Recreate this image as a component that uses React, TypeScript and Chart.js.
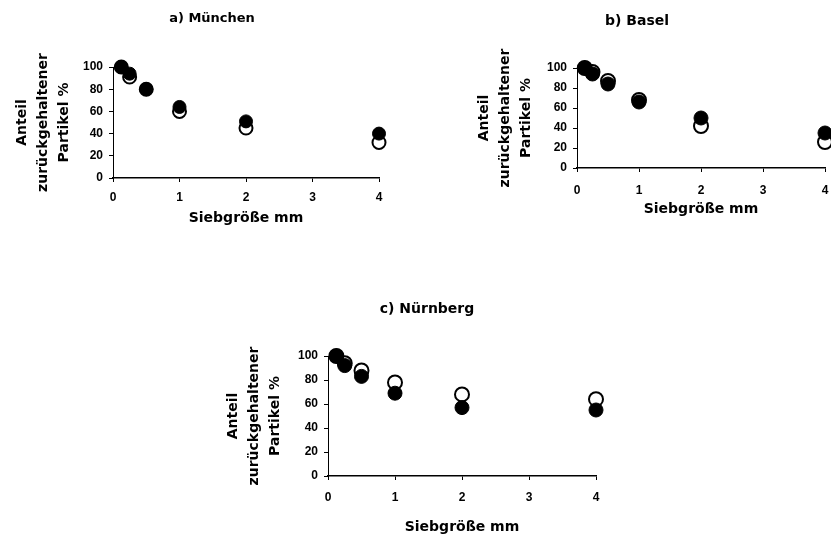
import React, { useEffect, useRef } from 'react';
import { Chart, registerables } from 'chart.js';

Chart.register(...registerables);

// ---- data ----
const sieveSizes = [0.125, 0.25, 0.5, 1, 2, 4];
const xTickValues = [0, 1, 2, 3, 4];
const yTickValues = [0, 20, 40, 60, 80, 100];

const muenchenFilled = [100, 94, 80, 64, 51, 40];
const muenchenOpen = [100, 91, 80, 60, 45, 32];
const baselFilled = [100, 94, 84, 66, 50, 35];
const baselOpen = [100, 96, 87, 68, 42, 26];
const nuernbergFilled = [100, 92, 83, 69, 57, 55];
const nuernbergOpen = [100, 94, 88, 78, 68, 64];

const panelTitles = ['a) München', 'b) Basel', 'c) Nürnberg'];
const yAxisTitle = ['Anteil', 'zurückgehaltener', 'Partikel %'];
const xAxisTitle = 'Siebgröße mm';

// ---- layout (page coordinates) ----
type Layout = {
  left: number; top: number; boxRight: number; bottom: number;
  plotL: number; plotR: number; plotT: number; plotB: number;
  titleY: number; titleSize: number; tickLabelY: number; xTitleY: number; yTitleX: number; radius: number;
};

const layoutA: Layout = { left: 0, top: 0, boxRight: 424, bottom: 229, plotL: 113, plotR: 379, plotT: 67, plotB: 178, titleY: 19, titleSize: 13, tickLabelY: 197.5, xTitleY: 218, yTitleX: 22, radius: 6.5 };
const layoutB: Layout = { left: 440, top: 0, boxRight: 834, bottom: 220, plotL: 577, plotR: 827, plotT: 68, plotB: 168, titleY: 21, titleSize: 14, tickLabelY: 191, xTitleY: 209, yTitleX: 484, radius: 7 };
const layoutC: Layout = { left: 210, top: 280, boxRight: 644, bottom: 536, plotL: 328, plotR: 596, plotT: 356, plotB: 476, titleY: 309, titleSize: 14, tickLabelY: 498, xTitleY: 527, yTitleX: 233, radius: 7 };

const TITLE_FONT = '"DejaVu Sans", sans-serif';
const TICK_FONT = '"Liberation Sans", Arial, sans-serif';

function Panel({ title, filled, open, L }: { title: string; filled: number[]; open: number[]; L: Layout }) {
  const ref = useRef<HTMLCanvasElement | null>(null);
  const W = L.boxRight - L.left;
  const H = L.bottom - L.top;

  useEffect(() => {
    if (!ref.current) return;
    const titleLh = L.titleSize * 1.2;
    const axisSize = 14;
    const axisLh = axisSize * 1.2;
    const yTitleLh = axisSize * 1.5;
    const tickSize = 12;
    const tickLh = tickSize * 1.2;
    const tickLen = 4;
    const tickFont = { family: TICK_FONT, size: tickSize, weight: 'bold' as const, lineHeight: 1.2 };

    const chart = new Chart(ref.current, {
      type: 'scatter',
      data: {
        datasets: [
          {
            label: 'filled',
            data: sieveSizes.map((x, i) => ({ x, y: filled[i] })),
            pointRadius: L.radius,
            pointBorderWidth: 1,
            pointBackgroundColor: '#000',
            pointBorderColor: '#000',
            showLine: false,
            clip: false as any,
          },
          {
            label: 'open',
            data: sieveSizes.map((x, i) => ({ x, y: open[i] })),
            pointRadius: L.radius,
            pointBorderWidth: 2,
            pointBackgroundColor: 'rgba(0,0,0,0)',
            pointBorderColor: '#000',
            showLine: false,
            clip: false as any,
          },
        ],
      },
      options: {
        animation: false,
        responsive: false,
        devicePixelRatio: 1,
        events: [],
        layout: { padding: 0 },
        plugins: {
          legend: { display: false },
          tooltip: { enabled: false },
          title: {
            display: true,
            text: title,
            color: '#000',
            font: { family: TITLE_FONT, size: L.titleSize, weight: 'bold', lineHeight: 1.2 },
            padding: {
              top: L.titleY - L.top - titleLh / 2,
              bottom: L.plotT - L.titleY - titleLh / 2,
            },
          },
        },
        scales: {
          x: {
            type: 'linear',
            min: 0,
            max: 4,
            afterBuildTicks: (axis: any) => {
              axis.ticks = xTickValues.map((v) => ({ value: v }));
            },
            ticks: {
              color: '#000',
              font: tickFont,
              padding: L.tickLabelY - L.plotB - tickLen - tickLh / 2,
              callback: (v: any) => String(v),
              maxRotation: 0,
              autoSkip: false,
            },
            grid: { drawOnChartArea: false, drawTicks: true, tickLength: tickLen, color: '#000', lineWidth: 1 },
            border: { display: true, color: '#000', width: 1.5 },
            title: {
              display: true,
              text: xAxisTitle,
              color: '#000',
              font: { family: TITLE_FONT, size: axisSize, weight: 'bold', lineHeight: 1.2 },
              padding: { top: 0, bottom: L.bottom - L.xTitleY - axisLh / 2 },
            },
            afterFit: (axis: any) => {
              axis.height = L.bottom - L.plotB;
              axis.paddingLeft = 0;
              axis.paddingRight = L.boxRight - L.plotR;
            },
          },
          y: {
            type: 'linear',
            min: 0,
            max: 100,
            afterBuildTicks: (axis: any) => {
              axis.ticks = yTickValues.map((v) => ({ value: v }));
            },
            ticks: {
              color: '#000',
              font: tickFont,
              padding: 6,
              callback: (v: any) => String(v),
            },
            grid: { drawOnChartArea: false, drawTicks: true, tickLength: tickLen, color: '#000', lineWidth: 1 },
            border: { display: true, color: '#000', width: 1 },
            title: {
              display: true,
              text: yAxisTitle,
              color: '#000',
              font: { family: TITLE_FONT, size: axisSize, weight: 'bold', lineHeight: 1.5 },
              padding: { top: L.yTitleX - L.left - yTitleLh / 2, bottom: 0 },
            },
            afterFit: (axis: any) => {
              axis.width = L.plotL - L.left;
              axis.paddingTop = 0;
              axis.paddingBottom = 0;
            },
          },
        },
      } as any,
    });
    return () => chart.destroy();
  }, [title, filled, open, L]);

  return (
    <canvas
      ref={ref}
      width={W}
      height={H}
      style={{ position: 'absolute', left: L.left, top: L.top, width: W, height: H, display: 'block' }}
    />
  );
}

export default function App() {
  return (
    <div style={{ position: 'absolute', left: 0, top: 0, width: 831, height: 536, overflow: 'hidden', background: '#fff' }}>
      <Panel title={panelTitles[0]} filled={muenchenFilled} open={muenchenOpen} L={layoutA} />
      <Panel title={panelTitles[1]} filled={baselFilled} open={baselOpen} L={layoutB} />
      <Panel title={panelTitles[2]} filled={nuernbergFilled} open={nuernbergOpen} L={layoutC} />
    </div>
  );
}
